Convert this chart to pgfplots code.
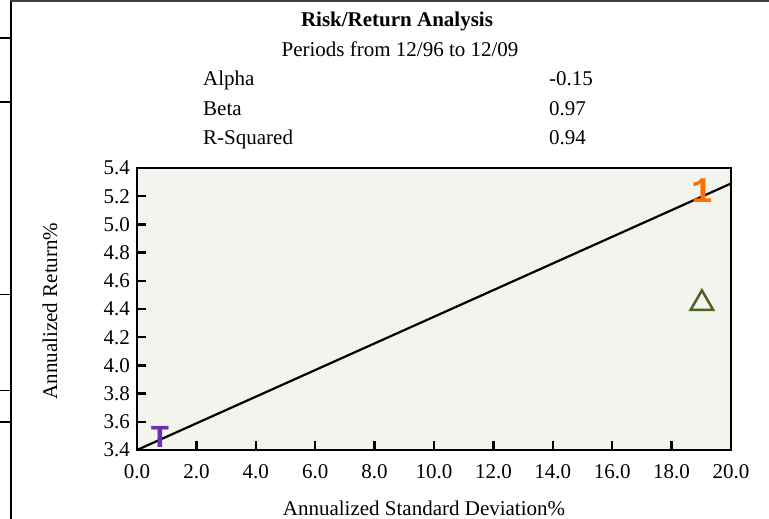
\documentclass[border=0pt]{standalone}
\usepackage{fontspec}
\setmainfont{Liberation Serif}
\newfontfamily\monofont{Liberation Mono}
\usepackage{pgfplots}
\pgfplotsset{compat=1.18}
\definecolor{bgc}{RGB}{244,244,239}
\definecolor{tpurple}{RGB}{106,48,180}
\definecolor{torange}{RGB}{255,110,0}
\definecolor{tgreen}{RGB}{75,100,30}
\begin{document}
\fontsize{21pt}{25pt}\selectfont
\begin{tikzpicture}
\useasboundingbox (0pt,0pt) rectangle (769pt,-519pt);
% remnants of the page frame
\draw[line width=2pt] (11pt,0pt) -- (11pt,-519pt);
\draw[line width=1.5pt, black!75] (10pt,-1pt) -- (769pt,-1pt);
\foreach \yy/\w in {38/2,102/2,294/1,390/1,422/2}
  \draw[line width=\w pt] (0pt,-\yy pt) -- (11pt,-\yy pt);

% header
\node[anchor=base] at (397pt,-27pt) {\bfseries Risk/Return Analysis};
\node[anchor=base] at (400pt,-57pt) {Periods from 12/96 to 12/09};
\node[anchor=base west, inner sep=0pt] at (203pt,-86pt) {Alpha};
\node[anchor=base west, inner sep=0pt] at (203pt,-115pt) {Beta};
\node[anchor=base west, inner sep=0pt] at (203pt,-144pt) {R-Squared};
\node[anchor=base west, inner sep=0pt] at (549pt,-86pt) {-0.15};
\node[anchor=base west, inner sep=0pt] at (549pt,-115pt) {0.97};
\node[anchor=base west, inner sep=0pt] at (549pt,-144pt) {0.94};

\begin{axis}[
  at={(137pt,-450pt)}, anchor=south west,
  scale only axis, width=594pt, height=282pt,
  xmin=0, xmax=20, ymin=3.4, ymax=5.4,
  xtick={0,2,4,6,8,10,12,14,16,18,20},
  ytick={3.4,3.6,3.8,4.0,4.2,4.4,4.6,4.8,5.0,5.2,5.4},
  tick align=inside, tick pos=left,
  major tick length=9pt,
  axis line style={line width=2.5pt, black},
  major tick style={line width=2.5pt, black},
  axis background/.style={fill=bgc},
  /pgf/number format/fixed,
  /pgf/number format/fixed zerofill,
  /pgf/number format/precision=1,
  /pgf/number format/assume math mode=true,
  tick label style={font=\fontsize{21pt}{21pt}\selectfont},
  xticklabel style={yshift=-7pt},
  clip=false,
]
\addplot[line width=2.2pt, black] coordinates {(0,3.4) (20,5.29)};
\addplot[only marks, mark=text,
  text mark={\color{tpurple}\monofont\bfseries\fontsize{32pt}{32pt}\selectfont T}]
  coordinates {(0.77,3.49)};
\addplot[only marks, mark=text,
  text mark={\color{torange}\monofont\bfseries\fontsize{36pt}{36pt}\selectfont 1}]
  coordinates {(19.02,5.24)};
\addplot[only marks, tgreen, mark=triangle, mark size=13pt,
  mark options={line width=2.5pt}]
  coordinates {(19.02,4.44)};
\end{axis}

\node at (424pt,-508pt) {Annualized Standard Deviation\%};
\node[rotate=90] at (50pt,-311pt) {Annualized Return\%};
\end{tikzpicture}
\end{document}
